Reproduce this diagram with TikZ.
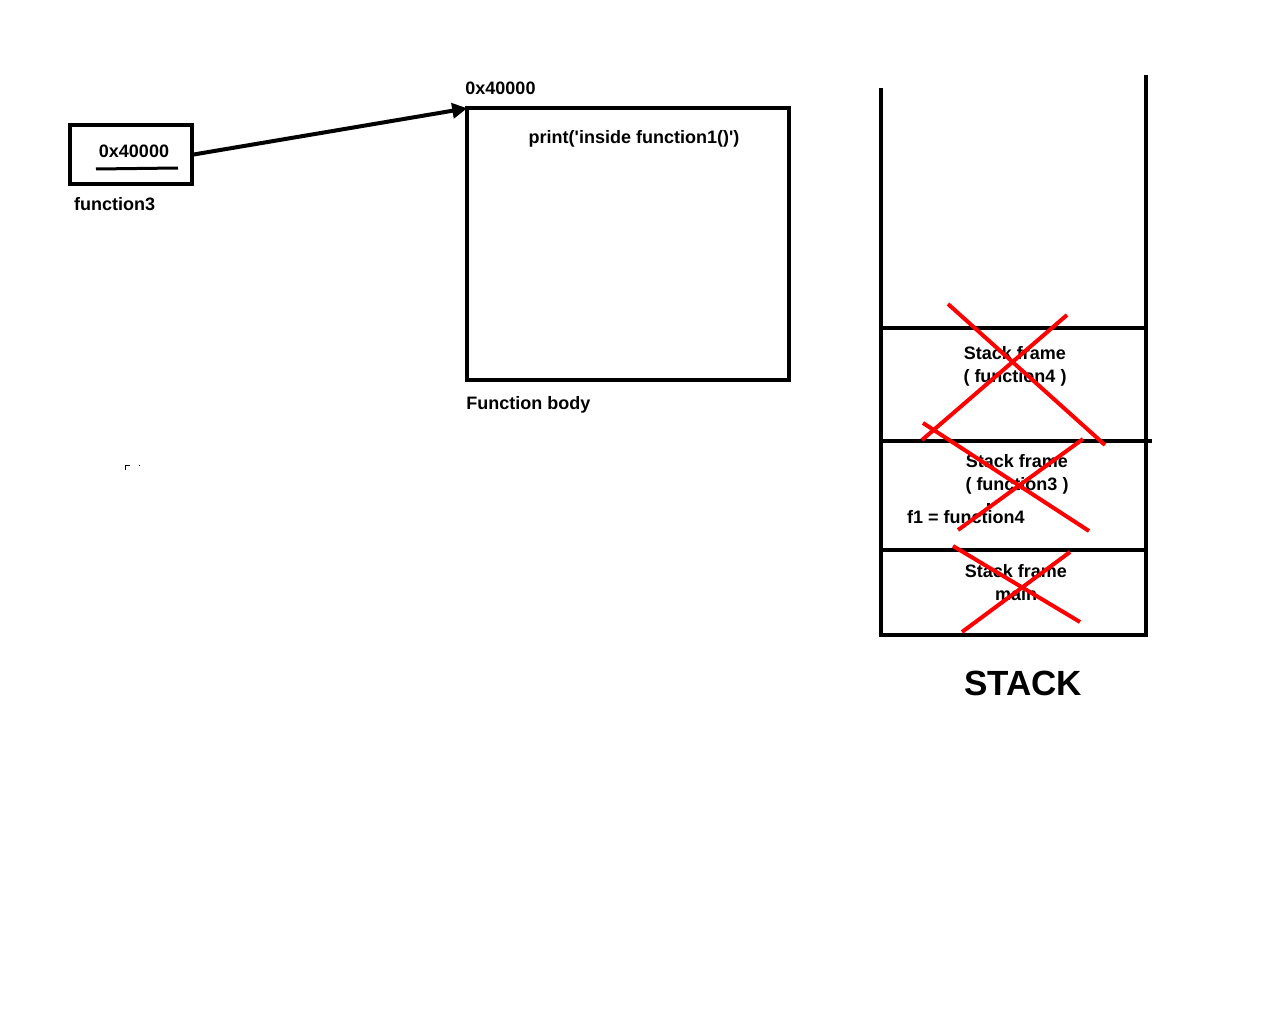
\documentclass[tikz,border=0pt]{standalone}
\usepackage{fontspec}
\setmainfont{Liberation Sans}
\usetikzlibrary{arrows.meta,positioning}
\tikzset{
  lbl/.style={font=\bfseries\fontsize{18}{21}\selectfont, inner sep=0pt},
  thickline/.style={line width=3.5pt},
  crossline/.style={red, line width=4pt},
}
\begin{document}
\begin{tikzpicture}[x=1pt,y=-1pt]
	\useasboundingbox[fill=white] (0,0) rectangle (1280,1024);
	%Stack walls: left at \sl, right at \sr
	\pgfmathsetmacro{\sl}{881}
	\pgfmathsetmacro{\sr}{1146}
	\pgfmathsetmacro{\sb}{635}

	%The variable box holding the address
	\draw node[draw, thickline, minimum width=122pt, minimum height=59pt, inner sep=0pt] (var) at (131,154.5) {};
	\path (var)+(3,-3.5) node[lbl] (varaddr) {0x40000};
	\draw[line width=3pt] (96,169) -- (178,168);
	\node[lbl, anchor=west] (varname) at (74,204) {function3};

	%The function body
	\draw node[draw, thickline, minimum width=322pt, minimum height=272pt, inner sep=0pt] (body) at (628,244) {};
	\node[lbl, anchor=south west] (bodyaddr) at ([yshift=11pt]body.north west) {0x40000};
	\path (body.north)+(6,33) node[lbl] (code) {print(\textquotesingle inside function1()\textquotesingle)};
	\node[lbl, anchor=north west] (bodyname) at ([xshift=1pt,yshift=-15pt]body.south west) {Function body};

	%Pointer to the body
	\draw[line width=4pt, -{Triangle[length=15pt,width=15pt]}] (var.east) -- ([xshift=2pt,yshift=-2pt]body.north west);

	%Stray mark
	\draw[line width=1pt] (125.5,470) -- (125.5,465.5) -- (130,465.5);
	\fill (139,465) rectangle (140,466);

	%Stack walls and frame borders
	\draw[line width=4pt] (\sl,88) -- (\sl,\sb);
	\draw[line width=4pt] (\sr,75) -- (\sr,\sb);
	\draw[line width=4pt] (\sl,328) -- (\sr,328);
	\draw[line width=4pt] (\sl,441) -- (1152,441);
	\draw[line width=4pt] (879,550) -- (1148,550);
	\draw[line width=4pt] (879,\sb) -- (1148,\sb);

	%Frame texts
	\node[lbl] (sf4) at (1015,353) {Stack frame};
	\node[lbl, below=9pt of sf4] (fn4) {( function4 )};
	\node[lbl] (sf3) at (1017,461) {Stack frame};
	\node[lbl, below=9pt of sf3] (fn3) {( function3 )};
	\node[lbl, anchor=west] (f1) at (907,517) {f1 = function4};
	\fill (987,503) rectangle (990,507);
	\node[lbl] (sfm) at (1016,571) {Stack frame};
	\node[lbl, below=9pt of sfm] (fnm) {main};

	%Crossed out frames
	\draw[crossline] (948,304) -- (1105,445);
	\draw[crossline] (1067,315) -- (922,440);
	\draw[crossline] (923,423) -- (1089,531);
	\draw[crossline] (1083,439) -- (958,530);
	\draw[crossline] (953,546) -- (1080,622);
	\draw[crossline] (1070,552) -- (962,632);

	%Title
	\node[font=\bfseries\fontsize{35}{40}\selectfont, inner sep=0pt] (title) at (1023,683) {STACK};
\end{tikzpicture}
\end{document}
